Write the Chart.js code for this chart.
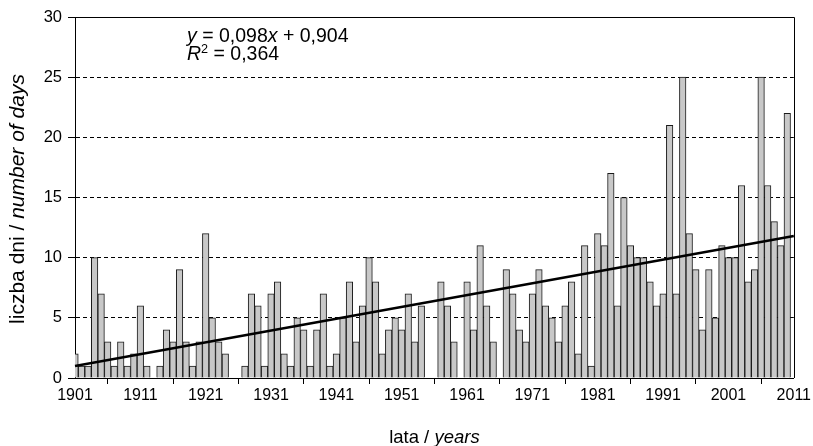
<!DOCTYPE html>
<html>
<head>
<meta charset="utf-8">
<script src="https://cdn.jsdelivr.net/npm/chart.js@4.4.1/dist/chart.umd.min.js"></script>
<style>
  body { margin: 0; background: #fff; }
</style>
</head>
<body>
<canvas id="myChart" width="813" height="446"></canvas>
<script>
// categories: 1901 ... 2011 (axis runs to 2011, data to 2010)
const firstYear = 1901;
const lastYear = 2011;
const years = [];
for (let y = firstYear; y <= lastYear; y++) years.push(String(y));

// number of days, decade by decade
const days1901 = [2, 1, 1, 10, 7, 3, 1, 3, 1, 2];
const days1911 = [6, 1, 0, 1, 4, 3, 9, 3, 1, 3];
const days1921 = [12, 5, 3, 2, 0, 0, 1, 7, 6, 1];
const days1931 = [7, 8, 2, 1, 5, 4, 1, 4, 7, 1];
const days1941 = [2, 5, 8, 3, 6, 10, 8, 2, 4, 5];
const days1951 = [4, 7, 3, 6, 0, 0, 8, 6, 3, 0];
const days1961 = [8, 4, 11, 6, 3, 0, 9, 7, 4, 3];
const days1971 = [7, 9, 6, 5, 3, 6, 8, 2, 11, 1];
const days1981 = [12, 11, 17, 6, 15, 11, 10, 10, 8, 6];
const days1991 = [7, 21, 7, 25, 12, 9, 4, 9, 5, 11];
const days2001 = [10, 10, 16, 8, 9, 25, 16, 13, 11, 22];

// linear trend, ends read at the edges of the plot
const trendYears = ['1901', '2011'];
const trendValues = [1.0, 11.8];

const yTicks = [0, 5, 10, 15, 20, 25, 30];

const days = [].concat(days1901, days1911, days1921, days1931, days1941,
    days1951, days1961, days1971, days1981, days1991, days2001);

const FONT = "'Liberation Sans', Arial, sans-serif";
Chart.defaults.font.family = FONT;
Chart.defaults.color = '#000';

// mixed roman / italic text on the canvas
function drawParts(ctx, parts, x, y, size) {
    let cx = x;
    parts.forEach(p => {
        const s = p.sup ? size * 0.65 : size;
        ctx.font = (p.italic ? 'italic ' : '') + s + 'px ' + FONT;
        ctx.fillText(p.text, cx, p.sup ? y - size * 0.38 : y);
        cx += ctx.measureText(p.text).width;
    });
    return cx - x;
}
function partsWidth(ctx, parts, size) {
    let w = 0;
    parts.forEach(p => {
        const s = p.sup ? size * 0.65 : size;
        ctx.font = (p.italic ? 'italic ' : '') + s + 'px ' + FONT;
        w += ctx.measureText(p.text).width;
    });
    return w;
}

const extras = {
    id: 'extras',
    afterDraw(chart) {
        const ctx = chart.ctx;
        const a = chart.chartArea;
        ctx.save();
        // frame top and right
        ctx.strokeStyle = '#000';
        ctx.lineWidth = 1;
        ctx.setLineDash([]);
        ctx.beginPath();
        ctx.moveTo(a.left, Math.round(a.top) + 0.5);
        ctx.lineTo(Math.round(a.right) + 0.5, Math.round(a.top) + 0.5);
        ctx.lineTo(Math.round(a.right) + 0.5, a.bottom);
        ctx.stroke();

        ctx.fillStyle = '#000';
        ctx.textAlign = 'left';
        ctx.textBaseline = 'alphabetic';

        // equation
        drawParts(ctx, [
            { text: 'y', italic: true }, { text: ' = 0,098' },
            { text: 'x', italic: true }, { text: ' + 0,904' }
        ], 187, 42, 19.5);
        drawParts(ctx, [
            { text: 'R', italic: true }, { text: '2', sup: true }, { text: ' = 0,364' }
        ], 187, 60, 19.5);

        // x title
        const xt = [{ text: 'lata / ' }, { text: 'years', italic: true }];
        const xw = partsWidth(ctx, xt, 18.5);
        drawParts(ctx, xt, (a.left + a.right) / 2 - xw / 2, 443, 18.5);

        // y title
        const yt = [{ text: 'liczba dni / ' }, { text: 'number of days', italic: true }];
        const yw = partsWidth(ctx, yt, 21);
        ctx.translate(24, 199);
        ctx.rotate(-Math.PI / 2);
        drawParts(ctx, yt, -yw / 2, 0, 21);
        ctx.restore();
    }
};

const ctx = document.getElementById('myChart').getContext('2d');
const myChart = new Chart(ctx, {
    data: {
        labels: years,
        datasets: [
            {
                type: 'line',
                data: trendYears.map((yr, i) => ({ x: yr, y: trendValues[i] })),
                borderColor: '#000',
                borderWidth: 2.5,
                pointRadius: 0,
                order: 1
            },
            {
                type: 'bar',
                data: days,
                backgroundColor: '#c8c8c8',
                borderColor: '#1a1a1a',
                borderWidth: 1,
                barPercentage: 1,
                categoryPercentage: 1,
                order: 2
            }
        ]
    },
    options: {
        responsive: false,
        animation: false,
        layout: { padding: { top: 17, right: 16, left: 0, bottom: 0 } },
        plugins: {
            legend: { display: false },
            tooltip: { enabled: false }
        },
        scales: {
            x: {
                type: 'category',
                offset: false,
                afterBuildTicks: scale => {
                    scale.ticks = scale.ticks.filter(t => t.value % 10 === 0);
                },
                afterFit: scale => { scale.height = 68; },
                grid: {
                    drawOnChartArea: false,
                    drawTicks: true,
                    tickLength: 6,
                    tickColor: '#000'
                },
                border: { color: '#000', width: 1 },
                ticks: {
                    autoSkip: false,
                    maxRotation: 0,
                    padding: 2,
                    font: { size: 16 }
                }
            },
            y: {
                min: 0,
                max: 30,
                afterBuildTicks: scale => {
                    scale.ticks = yTicks.map(v => ({ value: v }));
                },
                afterFit: scale => { scale.width = 75; },
                grid: {
                    color: '#000',
                    lineWidth: 1,
                    tickBorderDash: [],
                    tickColor: '#000',
                    tickLength: 7
                },
                border: { color: '#000', width: 1, dash: [4, 3] },
                ticks: {
                    padding: 6,
                    font: { size: 16.5 }
                }
            }
        }
    },
    plugins: [extras]
});
</script>
</body>
</html>
